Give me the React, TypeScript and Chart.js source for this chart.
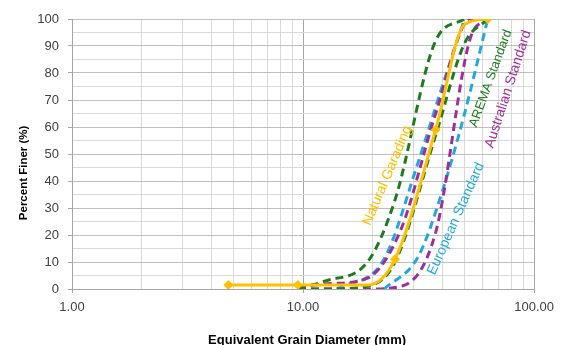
import React, { useEffect, useRef } from 'react';
import { Chart, registerables } from 'chart.js';

Chart.register(...registerables);

// ---- data (sieve size in mm, percent passing) ----
const naturalSizes = [4.75, 9.5, 19, 25, 37.5, 50, 63];
const naturalPassing = [1.5, 1.5, 1.5, 11, 59, 98, 100];

const aremaUpperSizes = [9.5, 12.5, 19, 25, 37.5, 50];
const aremaUpperPassing = [0, 3, 10, 33, 92, 100];
const aremaLowerSizes = [9.5, 12.5, 19, 25, 37.5, 50, 63];
const aremaLowerPassing = [0, 0, 1, 10, 57, 91, 100];

const australianSizes = [9.5, 13.2, 19, 26.5, 37.5, 53, 63];
const australianUpperPassing = [1, 2, 4, 22, 65, 100, 100];
const australianLowerPassing = [0, 0, 0, 1, 21, 93, 100];

const europeanUpperSizes = [14, 22.4, 31.5, 40, 50];
const europeanUpperPassing = [0, 11, 47, 75, 100];
const europeanLowerSizes = [22.4, 31.5, 40, 50, 63];
const europeanLowerPassing = [0, 12, 36, 65, 100];

const xMin = 1;
const xMax = 100;
const yMin = 0;
const yMax = 100;
const yStep = 5;
const yLabelStep = 10;

const curveLabels = ['Natural Garading', 'AREMA Standard', 'Australian Standard', 'European Standard'];
const labelSizes = [23.2, 64.9, 77.3, 45.9];
const labelPassing = [42, 78, 74, 26];

const xTitle = 'Equivalent Grain Diameter (mm)';
const yTitle = 'Percent Finer (%)';

// ---- styles ----
const GOLD = '#FFC000';
const GREEN = '#1E7B22';
const PURPLE = '#A02E9A';
const BLUE = '#22A8E0';
const labelColors = [GOLD, GREEN, PURPLE, BLUE];
const labelAngles = [-67, -70, -72, -66];
const labelFontSizes = [14, 13, 14, 14];
const naturalPointRadius = [5, 5, 0, 5, 5, 0, 5];
const FONT = '"Liberation Sans", Arial, sans-serif';

const pts = (xs: number[], ys: number[]) => xs.map((x, i) => ({ x, y: ys[i] }));

const isDecade = (v: number) => {
  const l = Math.log10(v);
  return Math.abs(l - Math.round(l)) < 1e-9;
};

const dashed = (label: string, data: any[], color: string) => ({
  label,
  data,
  borderColor: color,
  backgroundColor: color,
  borderWidth: 3,
  borderDash: [8, 5],
  pointRadius: 0,
  cubicInterpolationMode: 'monotone' as const,
  fill: false,
});

const labelPlugin = {
  id: 'labelPlugin',
  afterDatasetsDraw(chart: any) {
    const { ctx, scales, chartArea } = chart;
    const x = scales.x;
    const y = scales.y;
    ctx.save();
    curveLabels.forEach((t, i) => {
      const px = x.getPixelForValue(labelSizes[i]);
      const py = y.getPixelForValue(labelPassing[i]);
      ctx.save();
      ctx.translate(px, py);
      ctx.rotate((labelAngles[i] * Math.PI) / 180);
      ctx.font = `${labelFontSizes[i]}px ${FONT}`;
      ctx.fillStyle = labelColors[i];
      ctx.textAlign = 'center';
      ctx.textBaseline = 'middle';
      ctx.fillText(t, 0, 0);
      ctx.restore();
    });
    // axis titles
    ctx.fillStyle = '#000000';
    ctx.font = `bold 13px ${FONT}`;
    ctx.textAlign = 'center';
    ctx.textBaseline = 'alphabetic';
    ctx.fillText(xTitle, (chartArea.left + chartArea.right) / 2 + 4, chart.height - 1);
    ctx.save();
    ctx.translate(chartArea.left - 48, chartArea.top + (chartArea.bottom - chartArea.top) * 0.57);
    ctx.rotate(-Math.PI / 2);
    ctx.font = `bold 11.5px ${FONT}`;
    ctx.textBaseline = 'middle';
    ctx.fillText(yTitle, 0, 0);
    ctx.restore();
    ctx.restore();
  },
};

export default function App() {
  const ref = useRef<HTMLCanvasElement | null>(null);

  useEffect(() => {
    if (!ref.current) return;
    const chart = new Chart(ref.current, {
      type: 'line',
      data: {
        datasets: [
          {
            label: 'Natural Grading',
            data: pts(naturalSizes, naturalPassing),
            borderColor: GOLD,
            backgroundColor: GOLD,
            borderWidth: 3,
            pointStyle: 'rectRot',
            pointRadius: naturalPointRadius,
            pointBorderWidth: 0,
            cubicInterpolationMode: 'monotone',
            fill: false,
          } as any,
          dashed('AREMA upper', pts(aremaUpperSizes, aremaUpperPassing), GREEN),
          dashed('AREMA lower', pts(aremaLowerSizes, aremaLowerPassing), GREEN),
          dashed('Australian upper', pts(australianSizes, australianUpperPassing), PURPLE),
          dashed('Australian lower', pts(australianSizes, australianLowerPassing), PURPLE),
          dashed('European upper', pts(europeanUpperSizes, europeanUpperPassing), BLUE),
          dashed('European lower', pts(europeanLowerSizes, europeanLowerPassing), BLUE),
        ],
      },
      options: {
        responsive: false,
        animation: false,
        layout: { padding: { top: 19, right: 25, left: 0, bottom: 0 } },
        plugins: {
          legend: { display: false },
          tooltip: { enabled: false },
        },
        elements: { line: { tension: 0.4 } },
        scales: {
          x: {
            type: 'logarithmic',
            min: xMin,
            max: xMax,
            afterBuildTicks: (s: any) => {
              const ticks: any[] = [];
              for (let d = xMin; d < xMax; d *= 10) {
                for (let m = 1; m < 10; m++) ticks.push({ value: m * d });
              }
              ticks.push({ value: xMax });
              s.ticks = ticks;
            },
            afterFit: (s: any) => {
              s.height = 56;
            },
            ticks: {
              autoSkip: false,
              maxRotation: 0,
              color: '#404040',
              padding: 7,
              font: { size: 13, family: FONT },
              callback: (v: any) => (isDecade(Number(v)) ? Number(v).toFixed(2) : ''),
            },
            grid: {
              color: (c: any) => (c.tick && isDecade(c.tick.value) ? '#a6a6a6' : '#d9d9d9'),
              tickColor: (c: any) => (c.tick && isDecade(c.tick.value) ? '#a6a6a6' : 'rgba(0,0,0,0)'),
              tickLength: 4,
              lineWidth: 1,
            },
            border: { color: '#a6a6a6' },
          },
          y: {
            min: yMin,
            max: yMax,
            afterFit: (s: any) => {
              s.width = 72;
            },
            ticks: {
              stepSize: yStep,
              autoSkip: false,
              color: '#404040',
              padding: 9,
              font: { size: 13, family: FONT },
              callback: (v: any) => (Number(v) % yLabelStep === 0 ? String(v) : ''),
            },
            grid: {
              color: (c: any) => (c.tick && c.tick.value % yLabelStep === 0 ? '#bfbfbf' : '#d9d9d9'),
              tickColor: (c: any) => (c.tick && c.tick.value % yLabelStep === 0 ? '#a6a6a6' : 'rgba(0,0,0,0)'),
              tickLength: 4,
              lineWidth: 1,
            },
            border: { color: '#a6a6a6' },
          },
        },
      },
      plugins: [labelPlugin],
    });
    return () => chart.destroy();
  }, []);

  return (
    <div style={{ position: 'absolute', left: 0, top: 0, width: 561, height: 345, background: '#fff' }}>
      <canvas ref={ref} width={561} height={345} />
    </div>
  );
}
